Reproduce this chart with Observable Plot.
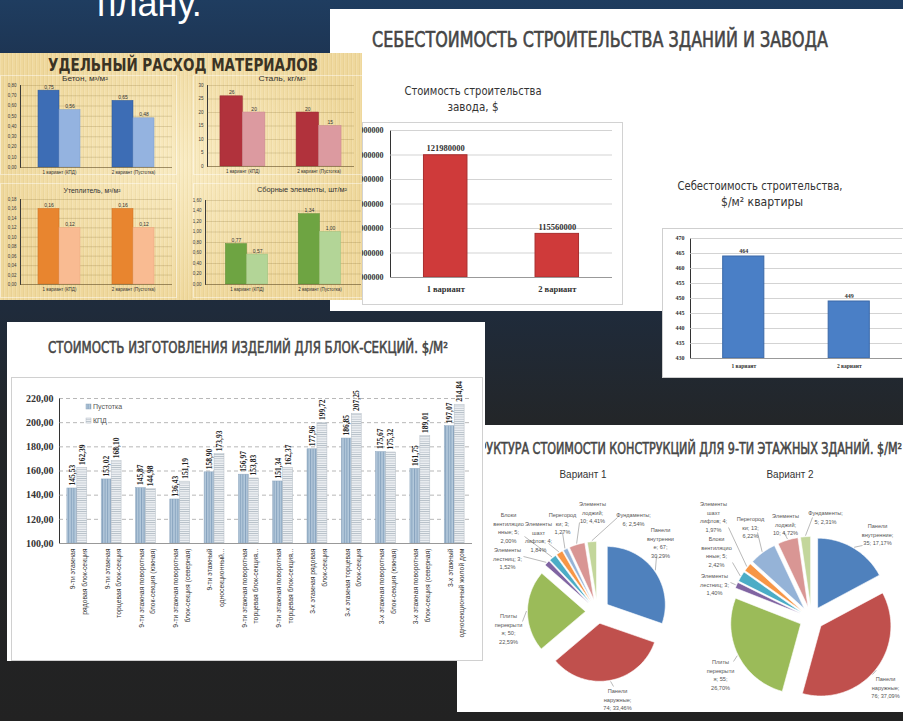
<!DOCTYPE html>
<html><head><meta charset="utf-8">
<script src="https://cdn.jsdelivr.net/npm/d3@7"></script>
<script src="https://cdn.jsdelivr.net/npm/@observablehq/plot@0.6"></script>
<style>
html,body{margin:0;padding:0;}
body{width:903px;height:721px;overflow:hidden;position:relative;
 background:linear-gradient(180deg,#1f3d60 0px,#1d3452 60px,#1f2b3b 310px,#232629 420px,#222 721px);
 font-family:'Liberation Sans','DejaVu Sans',sans-serif;}
.panel{position:absolute;overflow:hidden;}
.abs{position:absolute;}
.ov{position:absolute;left:0;top:0;pointer-events:none;overflow:visible;}
.box{position:absolute;box-sizing:border-box;}
</style></head>
<body>
<svg width="0" height="0" style="position:absolute"><defs>
 <pattern id="hatchP" width="2.6" height="3" patternUnits="userSpaceOnUse">
  <rect width="2.6" height="3" fill="#b3c8db"/><rect width="1" height="3" fill="#86a2bd"/></pattern>
 <pattern id="hatchK" width="3" height="2.2" patternUnits="userSpaceOnUse">
  <rect width="3" height="2.2" fill="#eef1f4"/><rect width="3" height="0.8" fill="#b4bdc6"/></pattern>
</defs></svg>

<svg class="abs" style="left:0;top:0" width="330" height="53"><text x="97" y="16" font-size="36" fill="#fff" font-family="'Liberation Sans',sans-serif">плану.</text></svg>

<div id="topPanel" class="panel" style="left:330px;top:9px;width:573px;height:302px;background:#fff;">
  <div class="box" style="left:32px;top:113px;width:261px;height:183px;border:1px solid #d2d2d2;"></div>
  <div id="plantChart" class="abs" style="left:10px;top:113px;"></div>
  <svg id="topOv" class="ov" width="573" height="302"></svg>
</div>
<div id="aptPanel" class="panel" style="left:662px;top:228px;width:241px;height:150px;background:#fff;border:1px solid #cfcfcf;border-right:none;box-sizing:border-box;">
  <div id="aptChart" class="abs" style="left:0;top:0;"></div>
</div>
<div id="matPanel" class="panel" style="left:0;top:53px;width:362px;height:247px;background-color:#efd89c;
 background-image:repeating-linear-gradient(90deg,rgba(255,255,255,0.13) 0 1px,rgba(0,0,0,0) 1px 3px,rgba(150,110,30,0.07) 3px 4px),radial-gradient(ellipse at 50% 45%,rgba(255,246,215,0.65),rgba(0,0,0,0) 72%);">
  <div class="box" style="left:0;top:22px;width:177px;height:100px;border:1px solid rgba(255,255,255,0.45);"></div>
  <div class="box" style="left:193px;top:22px;width:175px;height:100px;border:1px solid rgba(255,255,255,0.45);"></div>
  <div class="box" style="left:0;top:130px;width:177px;height:115px;border:1px solid rgba(255,255,255,0.45);"></div>
  <div class="box" style="left:193px;top:130px;width:175px;height:115px;border:1px solid rgba(255,255,255,0.45);"></div>
  <div id="c1" class="abs" style="left:0;top:27px;"></div>
  <div id="c2" class="abs" style="left:193px;top:27px;"></div>
  <div id="c3" class="abs" style="left:0;top:141px;"></div>
  <div id="c4" class="abs" style="left:193px;top:141px;"></div>
  <svg id="matOv" class="ov" width="362" height="247"></svg>
</div>
<div id="piePanel" class="panel" style="left:457px;top:425px;width:446px;height:287px;background:#fff;">
  <div id="pieChart" class="abs" style="left:0;top:0;"></div>
  <svg id="pieOv" class="ov" width="446" height="287"></svg>
</div>
<div id="barPanel" class="panel" style="left:7px;top:322px;width:478px;height:339px;background:#fff;">
  <div class="box" style="left:4px;top:55px;width:472px;height:284px;border:1px solid #d0d0d0;"></div>
  <div id="barChart" class="abs" style="left:4px;top:55px;"></div>
  <svg id="barOv" class="ov" width="478" height="339"></svg>
</div>

<script>
// ---------------- DATA ----------------
// Удельный расход материалов
const matVariants = ["1 вариант (КПД)", "2 вариант (Пустотка)"];
const betonA = [0.75, 0.65], betonB = [0.56, 0.48];
const stalA = [26, 20], stalB = [20, 15];
const uteplA = [0.16, 0.16], uteplB = [0.12, 0.12];
const sborA = [0.77, 1.34], sborB = [0.57, 1.00];
const betonTicks = [0, 0.1, 0.2, 0.3, 0.4, 0.5, 0.6, 0.7, 0.8];
const stalTicks = [0, 5, 10, 15, 20, 25, 30];
const uteplTicks = [0, 0.02, 0.04, 0.06, 0.08, 0.10, 0.12, 0.14, 0.16, 0.18];
const sborTicks = [0, 0.2, 0.4, 0.6, 0.8, 1.0, 1.2, 1.4, 1.6];

// Себестоимость строительства
const costVariants = ["1 вариант", "2 вариант"];
const plantCost = [121980000, 115560000];
const plantTicks = [112000000, 114000000, 116000000, 118000000, 120000000, 122000000, 124000000];
const aptCost = [464, 449];
const aptTicks = [430, 435, 440, 445, 450, 455, 460, 465, 470];

// Стоимость изготовления изделий для блок-секций
const blockLabels = [
  "9-ти этажная\nрядовая блок-секция",
  "9-ти этажная\nторцевая блок-секция",
  "9-ти этажная поворотная\nблок-секция (южная)",
  "9-ти этажная поворотная\nблок-секция (северная)",
  "9-ти этажный\nодносекционный...",
  "9-ти этажная поворотная\nторцевая блок-секция...",
  "9-ти этажная поворотная\nторцевая блок-секция...",
  "3-х этажная рядовая\nблок-секция",
  "3-х этажная торцевая\nблок-секция",
  "3-х этажная поворотная\nблок-секция (южная)",
  "3-х этажная поворотная\nблок-секция (северная)",
  "3-х этажный\nодносекционный жилой дом"
];
const pustotka = [145.53, 153.02, 145.87, 136.43, 158.90, 156.97, 151.34, 177.96, 186.85, 175.67, 161.75, 197.07];
const kpd = [162.39, 168.10, 144.98, 151.19, 173.93, 153.83, 162.37, 199.72, 207.25, 175.32, 189.01, 214.84];
const blockSeries = ["Пустотка", "КПД"];
const blockTicks = [100, 120, 140, 160, 180, 200, 220];

// Структура стоимости конструкций
const pieParts = ["Панели внутренние", "Панели наружные", "Плиты перекрытия", "Элементы лестниц",
  "Блоки вентиляционные", "Элементы шахт лифтов", "Перегородки", "Элементы лоджий", "Фундаменты"];
const v1Values = [67, 74, 50, 3, 5, 4, 3, 10, 6];
const v1Pct = [30.29, 33.46, 22.59, 1.52, 2.00, 1.84, 1.27, 4.41, 2.54];
const v2Values = [35, 76, 55, 3, 5, 4, 13, 10, 5];
const v2Pct = [17.17, 37.09, 26.70, 1.40, 2.42, 1.97, 6.22, 4.72, 2.31];

// ---------------- STYLE / LAYOUT ----------------
const SANS = "'Liberation Sans','DejaVu Sans',sans-serif";
const SERIF = "'Liberation Serif','DejaVu Serif',serif";
const NARROW = "'Liberation Sans Narrow','DejaVu Sans Condensed','Liberation Sans',sans-serif";
const pieColors = ["#4f81bd", "#c0504d", "#9bbb59", "#8064a2", "#4bacc6", "#f79646", "#95b3d7", "#d99694", "#c3d69b"];
const comma = f => v => f(v).replace(".", ",");
const f2 = comma(d3.format(".2f"));
const fInt = d3.format("d");

const NS = "http://www.w3.org/2000/svg";
function txt(svg, o) {
  const t = document.createElementNS(NS, "text");
  t.setAttribute("x", o.x); t.setAttribute("y", o.y);
  t.setAttribute("font-size", o.size); t.setAttribute("font-family", o.family || NARROW);
  t.setAttribute("fill", o.fill || "#333"); t.setAttribute("text-anchor", o.anchor || "middle");
  if (o.weight) t.setAttribute("font-weight", o.weight);
  if (o.heavy) { t.setAttribute("stroke", o.fill || "#333"); t.setAttribute("stroke-width", o.heavy); }
  if (o.len) { t.setAttribute("textLength", o.len); t.setAttribute("lengthAdjust", "spacingAndGlyphs"); }
  t.textContent = o.text;
  svg.appendChild(t);
  return t;
}
function rect(svg, o) {
  const r = document.createElementNS(NS, "rect");
  for (const k in o) r.setAttribute(k, o[k]);
  svg.appendChild(r);
}

// grouped two-bar chart (band scale with split bars)
function pairChart(o) {
  const n = o.groups.length;
  const step = (o.width - o.ml - o.mr) / (n - o.pi + 2 * o.po);
  const half = step * (1 - o.pi) / 2;
  const rows = o.groups.map((g, i) => ({g, i, a: o.a[i], b: o.b[i]}));
  const y0 = o.yTicks[0], y1 = o.yTicks[o.yTicks.length - 1];
  return Plot.plot({
    width: o.width, height: o.height,
    marginLeft: o.ml, marginRight: o.mr, marginTop: o.mt, marginBottom: o.mb,
    style: {background: "transparent", color: o.ink, fontFamily: o.font, fontSize: o.tickFont + "px", fontWeight: o.tickWeight || "normal", overflow: "visible"},
    x: {domain: o.xDomain || o.groups, paddingInner: o.pi, paddingOuter: o.po, round: false, axis: null},
    y: {domain: [y0, y1], ticks: o.yTicks, tickFormat: o.yFmt, tickSize: 0, tickPadding: o.tickPad, label: null, line: true},
    marks: [
      Plot.ruleY(o.yTicks.slice(1), {stroke: o.gridColor, strokeWidth: o.gridWidth, strokeDasharray: o.dash || null}),
      Plot.barY(rows, {x: o.xKey || "g", y1: () => y0, y2: "a", fill: o.fillA, stroke: o.strokeA, strokeWidth: 0.5, insetLeft: 0, insetRight: half}),
      Plot.barY(rows, {x: o.xKey || "g", y1: () => y0, y2: "b", fill: o.fillB, stroke: o.strokeB, strokeWidth: 0.5, insetLeft: half, insetRight: 0}),
      Plot.text(rows, {x: o.xKey || "g", y: "a", text: d => o.vFmt(d.a), dx: -half / 2, ...o.valText}),
      Plot.text(rows, {x: o.xKey || "g", y: "b", text: d => o.vFmt(d.b), dx: half / 2, ...o.valText}),
      Plot.ruleY([y0], {stroke: o.axisColor}),
      Plot.text(rows, {x: o.xKey || "g", frameAnchor: "bottom", text: o.catText || "g", ...o.catStyle})
    ]
  });
}

// ---------------- МАТЕРИАЛЫ ----------------
const matCommon = {
  groups: matVariants, ink: "#3a3a3a", font: SANS, tickFont: 4.5, tickPad: 4,
  gridColor: "rgba(120,95,40,0.35)", gridWidth: 0.6, axisColor: "rgba(100,80,40,0.6)",
  yFmt: f2, vFmt: f2,
  valText: {fontSize: 5, dy: -2, lineAnchor: "bottom", fill: "#333"},
  catStyle: {fontSize: 4.5, dy: 3.5, lineAnchor: "top", fill: "#333"}
};
document.getElementById("c1").append(pairChart({...matCommon, width: 176, height: 98, ml: 20, mr: 4, mt: 5, mb: 11,
  pi: 0.432, po: 0.243, yTicks: betonTicks, a: betonA, b: betonB,
  fillA: "#3d6db5", strokeA: "#2f5a9a", fillB: "#94b3e0", strokeB: "#7d9dcc"}));
document.getElementById("c2").append(pairChart({...matCommon, width: 169, height: 98, ml: 14, mr: 8, mt: 5, mb: 12,
  pi: 0.41, po: 0.17, yTicks: stalTicks, a: stalA, b: stalB, yFmt: fInt, vFmt: fInt,
  fillA: "#b1323c", strokeA: "#962a32", fillB: "#dc9aa0", strokeB: "#c98890"}));
document.getElementById("c3").append(pairChart({...matCommon, width: 176, height: 99, ml: 20, mr: 4, mt: 5, mb: 9,
  pi: 0.432, po: 0.243, yTicks: uteplTicks, a: uteplA, b: uteplB,
  fillA: "#e8852f", strokeA: "#cf7226", fillB: "#f9bb92", strokeB: "#e8a67c"}));
document.getElementById("c4").append(pairChart({...matCommon, width: 169, height: 99, ml: 12, mr: 1, mt: 6, mb: 9,
  pi: 0.42, po: 0.28, yTicks: sborTicks, a: sborA, b: sborB,
  fillA: "#6ea442", strokeA: "#5a8c34", fillB: "#b3d597", strokeB: "#9cc27f"}));

const matOv = document.getElementById("matOv");
txt(matOv, {x: 183, y: 18, size: 18, text: "УДЕЛЬНЫЙ РАСХОД МАТЕРИАЛОВ", len: 270, fill: "#3a3324", weight: "bold"});
txt(matOv, {x: 85, y: 28, size: 6.5, text: "Бетон, м³/м²", len: 46, family: SANS});
txt(matOv, {x: 282, y: 28, size: 6.5, text: "Сталь, кг/м²", len: 47, family: SANS});
txt(matOv, {x: 92, y: 140, size: 7, text: "Утеплитель, м³/м²", len: 57, family: SANS});
txt(matOv, {x: 302, y: 139, size: 7, text: "Сборные элементы, шт/м²", len: 90, family: SANS});

// ---------------- СЕБЕСТОИМОСТЬ ----------------
function singleChart(o) {
  const rows = o.groups.map((g, i) => ({g, v: o.values[i]}));
  const y0 = o.yTicks[0], y1 = o.yTicks[o.yTicks.length - 1];
  return Plot.plot({
    width: o.width, height: o.height,
    marginLeft: o.ml, marginRight: o.mr, marginTop: o.mt, marginBottom: o.mb,
    style: {background: "transparent", color: "#333", fontFamily: SERIF, fontSize: o.tickFont + "px", fontWeight: "bold", overflow: "visible"},
    x: {domain: o.groups, paddingInner: o.pi, paddingOuter: o.po, round: false, axis: null},
    y: {domain: [y0, y1], ticks: o.yTicks, tickFormat: fInt, tickSize: 0, tickPadding: o.tickPad, label: null, line: true},
    marks: [
      Plot.ruleY(o.yTicks.slice(1), {stroke: "#c8c8c8", strokeWidth: 0.8}),
      Plot.barY(rows, {x: "g", y1: () => y0, y2: "v", fill: o.fill, stroke: o.stroke, strokeWidth: 1}),
      Plot.text(rows, {x: "g", y: "v", text: d => fInt(d.v), dy: -4, lineAnchor: "bottom", fontSize: o.valFont, fill: "#333"}),
      Plot.ruleY([y0], {stroke: "#999"}),
      Plot.text(rows, {x: "g", frameAnchor: "bottom", text: "g", dy: o.catDy, lineAnchor: "top", fontSize: o.catFont, fill: "#333"})
    ]
  });
}
document.getElementById("plantChart").append(singleChart({
  groups: costVariants, values: plantCost, yTicks: plantTicks,
  width: 283, height: 183, ml: 50, mr: 11, mt: 8, mb: 28, pi: 0.61, po: 0.30,
  tickFont: 8, tickPad: 7, valFont: 8.5, catFont: 8.5, catDy: 8,
  fill: "#cf3a3a", stroke: "#a92e2e"}));
document.getElementById("aptChart").append(singleChart({
  groups: costVariants, values: aptCost, yTicks: aptTicks,
  width: 240, height: 149, ml: 27, mr: 1, mt: 9, mb: 20, pi: 0.61, po: 0.31,
  tickFont: 6, tickPad: 6, valFont: 6, catFont: 5.5, catDy: 6,
  fill: "#4a7fc6", stroke: "#3a68a8"}));

const topOv = document.getElementById("topOv");
txt(topOv, {x: 270, y: 38, size: 22, text: "СЕБЕСТОИМОСТЬ СТРОИТЕЛЬСТВА ЗДАНИЙ И ЗАВОДА", len: 456, fill: "#454545", heavy: 0.6});
txt(topOv, {x: 143, y: 86, size: 13, text: "Стоимость строительства", len: 137, fill: "#333"});
txt(topOv, {x: 143, y: 102, size: 13, text: "завода, $", len: 51, fill: "#333"});
txt(topOv, {x: 430, y: 181, size: 13, text: "Себестоимость строительства,", len: 165, fill: "#333"});
txt(topOv, {x: 432, y: 197, size: 13, text: "$/м² квартиры", len: 82, fill: "#333"});

// ---------------- БЛОК-СЕКЦИИ ----------------
const blockIdx = blockLabels.map((_, i) => i);
document.getElementById("barChart").append(pairChart({
  groups: blockLabels, xDomain: blockIdx, xKey: "i", a: pustotka, b: kpd,
  width: 472, height: 283, ml: 48, mr: 11, mt: 21, mb: 117, pi: 0.42, po: 0.23,
  ink: "#333", font: SERIF, tickFont: 10, tickWeight: "bold", tickPad: 6,
  gridColor: "#9a9a9a", gridWidth: 0.7, dash: "4,3", axisColor: "#999",
  yTicks: blockTicks, yFmt: f2, vFmt: f2,
  fillA: "url(#hatchP)", strokeA: "#8ea6bd", fillB: "url(#hatchK)", strokeB: "#b4bdc6",
  valText: {fontSize: 7.5, rotate: -90, textAnchor: "start", lineAnchor: "middle", dy: -3, fill: "#222"},
  catText: "g",
  catStyle: {fontSize: 6.8, rotate: -90, textAnchor: "end", lineAnchor: "middle", lineHeight: 1.7, dy: 5, fill: "#333", fontFamily: SANS, fontWeight: "normal"}
}));
const barOv = document.getElementById("barOv");
txt(barOv, {x: 41, y: 31, size: 15, text: "СТОИМОСТЬ ИЗГОТОВЛЕНИЯ ИЗДЕЛИЙ ДЛЯ БЛОК-СЕКЦИЙ. $/М²", len: 400, fill: "#454545", anchor: "start", heavy: 0.5});
rect(barOv, {x: 79, y: 82, width: 5, height: 5, fill: "url(#hatchP)", stroke: "#8ea6bd", "stroke-width": 0.5});
txt(barOv, {x: 86, y: 87, size: 7, text: blockSeries[0], fill: "#555", anchor: "start", family: SANS});
rect(barOv, {x: 79, y: 96, width: 5, height: 5, fill: "url(#hatchK)", stroke: "#b4bdc6", "stroke-width": 0.5});
txt(barOv, {x: 86, y: 101, size: 7, text: blockSeries[1], fill: "#555", anchor: "start", family: SANS});

// ---------------- ПИРОГИ ----------------
function wrap(s, max) {
  const lines = []; let cur = "";
  for (const w of s.split(" ")) {
    const cand = cur ? cur + " " + w : w;
    if (cand.length <= max) { cur = cand; continue; }
    if (cur) { lines.push(cur); cur = ""; }
    let t = w;
    while (t.length > max) { lines.push(t.slice(0, max)); t = t.slice(max); }
    cur = t;
  }
  if (cur) lines.push(cur);
  return lines.join("\n");
}
// layout: pie centre/radius/explode + label anchor [x, y, wrapWidth, leaderX, leaderY]
const pieLayout1 = {cx: 140, cy: 186, r: 58, e: 12, labels: [
  [203, 101, 9, 199, 131], [160, 262, 10, 156, 261], [51, 187, 9, 65, 196], [50, 121, 11, 66, 131],
  [51, 86, 10, 67, 111], [81, 95, 10, 91, 118], [105, 86, 9, 105, 107], [135, 75, 9, 122, 97], [176, 86, 11, 160, 92]]};
const pieLayout2 = {cx: 354, cy: 193, r: 70, e: 12, labels: [
  [420, 97, 11, 405, 120], [428, 250, 10, 415, 249], [263, 233, 9, 276, 236], [257, 147, 11, 273, 157],
  [259, 110, 10, 275, 137], [256, 75, 10, 271, 102], [293, 90, 9, 300, 107], [328, 87, 9, 326, 106], [368, 84, 11, 355, 92]]};

function pieMarks(values, pcts, L) {
  const arcs = d3.pie().sort(null).value(d => d)(pcts);
  const marks = [];
  const leaders = [], labels = [];
  arcs.forEach((a, i) => {
    const mid = (a.startAngle + a.endAngle) / 2;
    const ox = L.cx + L.e * Math.sin(mid), oy = L.cy - L.e * Math.cos(mid);
    const pts = [{x: ox, y: oy}];
    const n = Math.max(3, Math.ceil((a.endAngle - a.startAngle) / 0.02));
    for (let k = 0; k <= n; k++) {
      const t = a.startAngle + (a.endAngle - a.startAngle) * k / n;
      pts.push({x: ox + L.r * Math.sin(t), y: oy - L.r * Math.cos(t)});
    }
    pts.push({x: ox, y: oy});
    marks.push(Plot.line(pts, {x: "x", y: "y", fill: pieColors[i], stroke: "#fff", strokeWidth: 0.6}));
    const [lx, ly, w, sx, sy] = L.labels[i];
    const R = L.e + L.r + 1;
    leaders.push({x1: sx, y1: sy, x2: L.cx + R * Math.sin(mid), y2: L.cy - R * Math.cos(mid)});
    labels.push({x: lx, y: ly, text: wrap(`${pieParts[i]}; ${values[i]}; ${pcts[i].toFixed(2).replace(".", ",")}%`, w)});
  });
  marks.push(Plot.link(leaders, {x1: "x1", y1: "y1", x2: "x2", y2: "y2", stroke: "#8a8a8a", strokeWidth: 0.6}));
  marks.push(Plot.text(labels, {x: "x", y: "y", text: "text", fontSize: 5.6, lineHeight: 1.5, lineAnchor: "top", textAnchor: "middle", fill: "#555"}));
  return marks;
}
document.getElementById("pieChart").append(Plot.plot({
  width: 446, height: 287, margin: 0,
  x: {domain: [0, 446], range: [0, 446], axis: null},
  y: {domain: [0, 287], range: [0, 287], axis: null},
  style: {background: "transparent", fontFamily: SANS, overflow: "visible"},
  marks: [...pieMarks(v1Values, v1Pct, pieLayout1), ...pieMarks(v2Values, v2Pct, pieLayout2)]
}));
const pieOv = document.getElementById("pieOv");
txt(pieOv, {x: 445, y: 29, size: 15, text: "СТРУКТУРА СТОИМОСТИ КОНСТРУКЦИЙ ДЛЯ 9-ТИ ЭТАЖНЫХ ЗДАНИЙ. $/М²", len: 437, fill: "#454545", anchor: "end", heavy: 0.5});
txt(pieOv, {x: 126, y: 53, size: 11, text: "Вариант 1", len: 47, fill: "#333", family: SANS});
txt(pieOv, {x: 333, y: 53, size: 11, text: "Вариант 2", len: 47, fill: "#333", family: SANS});
</script>
</body></html>
